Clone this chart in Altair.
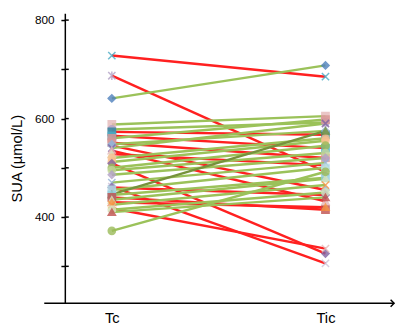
import altair as alt
import pandas as pd

# Serum uric acid per patient at Tc and Tic (µmol/L)
tc_values = [728, 687, 641, 588, 578, 573, 565, 560, 551, 548, 545, 540, 535, 528, 520, 512, 509,
             500, 495, 486, 470, 462, 460, 455, 446, 445, 440, 435, 430, 425, 418, 415, 410, 372]
tic_values = [685, 492, 708, 605, 592, 567, 540, 598, 520, 575, 455, 590, 432, 505, 560, 555, 326,
              545, 530, 520, 510, 306, 445, 500, 575, 480, 415, 478, 420, 465, 336, 450, 440, 492]
trend = ["down", "down", "up", "up", "up", "down", "down", "up", "down", "up", "down", "up", "down",
         "down", "up", "up", "down", "up", "up", "up", "up", "down", "down", "up", "up_dark", "up",
         "down", "up", "down", "up", "down", "up", "up", "up"]
marker_shape = ["x", "asterisk", "diamond", "square", "circle", "square", "square", "square", "square",
                "diamond", "diamond", "x", "triangle-up", "triangle-up", "circle", "circle", "diamond",
                "circle", "circle", "diamond", "x", "x", "diamond", "square", "triangle-up", "square",
                "square", "triangle-up", "triangle-up", "x", "x", "circle", "triangle-up", "circle"]
marker_color = ["#4BACC6", "#B3A2C7", "#4F81BD", "#E6B9B8", "#B3A2C7", "#31859C", "#4BACC6", "#D99694",
                "#D99694", "#95B3D7", "#95B3D7", "#8064A2", "#E6B9B8", "#D7E4BD", "#FAC090", "#FAC090",
                "#8064A2", "#9BBB59", "#C3D69B", "#B3A2C7", "#95B3D7", "#CCC1DA", "#8064A2", "#B7DEE8",
                "#77933C", "#93CDDD", "#C0504D", "#D7E4BD", "#F79646", "#F79646", "#E6B9B8", "#D7E4BD",
                "#C0504D", "#9BBB59"]
time_labels = ["Tc", "Tic"]
y_ticks = [300, 400, 500, 600, 700, 800]

line_colors = {"down": "#FF2020", "up": "#9BC25A", "up_dark": "#76923C"}
shape_paths = {
    "x": "M-1,-1L1,1M-1,1L1,-1",
    "asterisk": "M-1,-1L1,1M-1,1L1,-1M0,-1.2L0,1.2",
}

rows = []
for i in range(len(tc_values)):
    for t, v in ((0, tc_values[i]), (1, tic_values[i])):
        rows.append({
            "id": i, "t": t, "v": v,
            "lc": line_colors[trend[i]],
            "shape": shape_paths.get(marker_shape[i], marker_shape[i]),
            "mc": marker_color[i],
        })
df = pd.DataFrame(rows)

xscale = alt.Scale(domain=[-0.22, 1.312], nice=False, zero=False)
yscale = alt.Scale(domain=[225, 814], nice=False, zero=False)

x_axis = alt.Axis(values=[0, 1], labelExpr="datum.value == 0 ? 'Tc' : 'Tic'", ticks=False,
                  tickSize=0, domain=False, grid=False, labelPadding=8, labelFontSize=15,
                  labelColor="black", title=None)
y_axis = alt.Axis(values=y_ticks, labelExpr="datum.value % 200 == 0 ? datum.label : ''",
                  grid=False, tickSize=4, tickColor="black", tickWidth=1.5, domainColor="black",
                  domainWidth=1.5, labelPadding=7, labelFontSize=12, labelColor="black",
                  title="SUA (µmol/L)", titleFontSize=15, titleFontWeight="normal",
                  titleColor="black", titlePadding=10)

base = alt.Chart(df)
lines = base.mark_line(strokeWidth=2.5).encode(
    x=alt.X("t:Q", scale=xscale, axis=x_axis),
    y=alt.Y("v:Q", scale=yscale, axis=y_axis),
    detail="id:N",
    color=alt.Color("lc:N", scale=None),
)
points = base.mark_point(filled=True, size=55, strokeWidth=1.5, opacity=0.8).encode(
    x=alt.X("t:Q", scale=xscale, axis=x_axis),
    y=alt.Y("v:Q", scale=yscale, axis=y_axis),
    shape=alt.Shape("shape:N", scale=None),
    fill=alt.Fill("mc:N", scale=None),
    stroke=alt.Stroke("mc:N", scale=None),
)

tick_df = pd.DataFrame({"v": y_ticks})
inner_ticks = alt.Chart(tick_df).mark_rule(color="black", strokeWidth=1.5).encode(
    y=alt.Y("v:Q", scale=yscale, axis=y_axis),
    x=alt.value(0), x2=alt.value(4),
)

one = pd.DataFrame({"a": [0]})
xline = alt.Chart(one).mark_rule(color="black", strokeWidth=1.5).encode(
    x=alt.value(-21), x2=alt.value(336), y=alt.value(296)
)
arrow = alt.Chart(one).mark_point(shape="M-1,-1L0,0L-1,1", size=50, filled=False,
                                  color="black", strokeWidth=1.5, opacity=1).encode(
    x=alt.value(336), y=alt.value(296)
)

chart = alt.layer(lines, points, inner_ticks, xline, arrow).properties(
    width=334, height=296,
    padding={"left": 58, "top": 2, "right": 6, "bottom": 24},
    autosize=alt.AutoSizeParams(type="none"),
).configure(font="Liberation Sans").configure_view(stroke=None)

chart.save("out.html", embed_options={"renderer": "svg", "actions": False})
